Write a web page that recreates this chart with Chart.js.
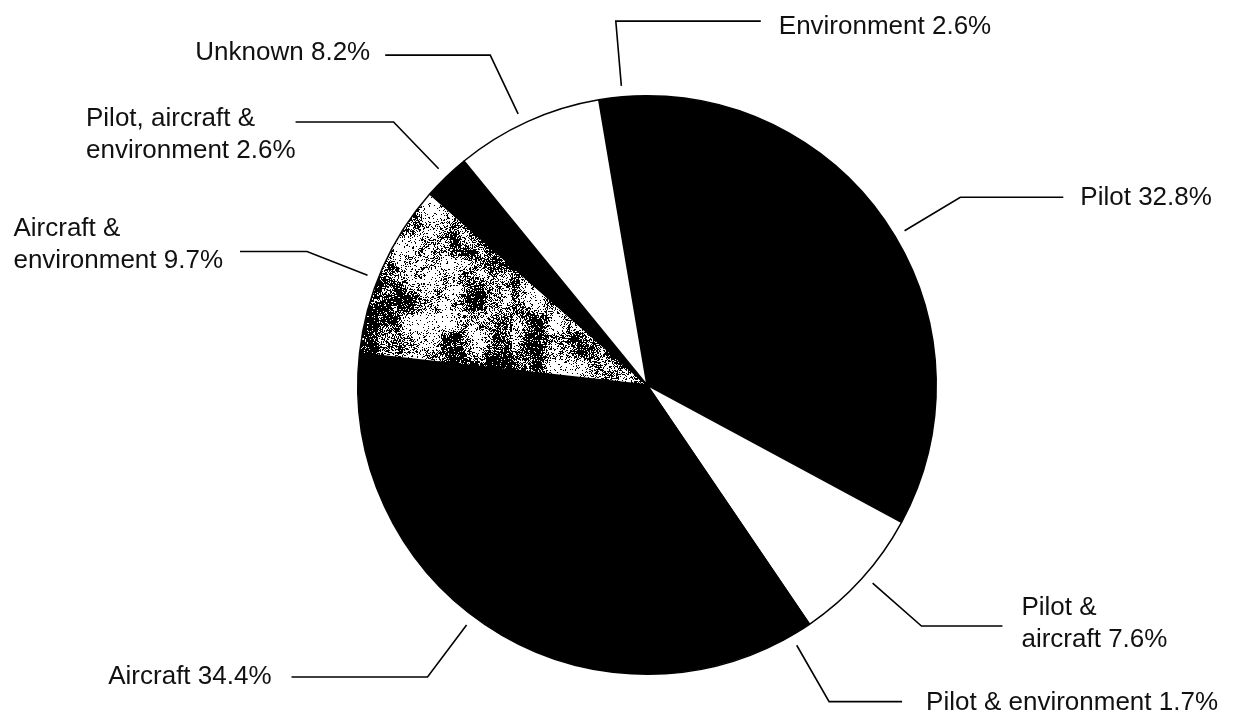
<!DOCTYPE html>
<html><head><meta charset="utf-8">
<script src="https://cdn.jsdelivr.net/npm/chart.js@4/dist/chart.umd.min.js"></script>
<style>html,body{margin:0;padding:0;background:#fff;overflow:hidden}</style>
</head><body>
<canvas id="c" width="1237" height="724"></canvas>
<script>
// ---- data ----
const categories = ["Environment", "Pilot", "Pilot &\naircraft", "Pilot & environment", "Aircraft",
                    "Aircraft &\nenvironment", "Pilot, aircraft &\nenvironment", "Unknown"];
const values = [2.6, 32.8, 7.6, 1.7, 34.4, 9.7, 2.6, 8.2];
const fillKinds = ["black", "black", "white", "black", "black", "texture", "black", "white"];

// ---- label layout (style) ----
const labelDir = [1, 1, 1, 1, -1, -1, -1, -1];
const labelAngleAdj = [0, 0, -0.8, 1.2, 2.8, -2.4, 0, -1];
const labelRun = [145, 103, 81, 73, 136, 67, 98, 105];
const labelGap = [18, 17, 19, 24, 20, 17, 0, 15];
const labelDy  = [4, -1.5, -4.5, -1, -2, -9, 11, -4];
const FONT_SIZE = 26, LINE_H = 32;
const FONT = FONT_SIZE + 'px "Liberation Sans", Arial, Helvetica, sans-serif';

const canvas = document.getElementById('c');
const ctx0 = canvas.getContext('2d');

function ihash(x, y, seed) {
  let h = (x * 374761393 + y * 668265263 + seed * 982451653) | 0;
  h = Math.imul(h ^ (h >>> 13), 1274126177);
  h = h ^ (h >>> 16);
  return (h >>> 0) / 4294967296;
}
function vnoise(x, y, cell, seed) {
  const gx = Math.floor(x / cell), gy = Math.floor(y / cell);
  const fx = x / cell - gx, fy = y / cell - gy;
  const sx = fx * fx * (3 - 2 * fx), sy = fy * fy * (3 - 2 * fy);
  const a = ihash(gx, gy, seed), b = ihash(gx + 1, gy, seed);
  const c = ihash(gx, gy + 1, seed), d = ihash(gx + 1, gy + 1, seed);
  return (a * (1 - sx) + b * sx) * (1 - sy) + (c * (1 - sx) + d * sx) * sy;
}
function makeTexture() {
  const s = 256;
  const c = document.createElement('canvas');
  c.width = c.height = s;
  const g = c.getContext('2d');
  const img = g.createImageData(s, s);
  for (let y = 0; y < s; y++) for (let x = 0; x < s; x++) {
    const n = 0.55 * vnoise(x, y, 22, 1) + 0.3 * vnoise(x, y, 9, 2) + 0.15 * vnoise(x, y, 4, 3);
    const p = Math.min(0.92, Math.max(0.08, 0.5 + (n - 0.5) * 1.9));
    const v = ihash(x, y, 7) < p ? 0 : 255;
    const i = (y * s + x) * 4;
    img.data[i] = img.data[i + 1] = img.data[i + 2] = v;
    img.data[i + 3] = 255;
  }
  g.putImageData(img, 0, 0);
  return ctx0.createPattern(c, 'repeat');
}
const texture = makeTexture();
const colors = fillKinds.map(k => k === 'texture' ? texture : (k === 'white' ? '#ffffff' : '#000000'));

const labelPlugin = {
  id: 'leaderLabels',
  afterDraw(chart) {
    const ctx = chart.ctx;
    const arcs = chart.getDatasetMeta(0).data;
    ctx.save();
    ctx.strokeStyle = '#000';
    ctx.lineWidth = 1.6;
    ctx.fillStyle = '#111';
    ctx.font = FONT;
    ctx.textBaseline = 'alphabetic';
    arcs.forEach((arc, i) => {
      const p = arc.getProps(['x', 'y', 'startAngle', 'endAngle', 'outerRadius'], true);
      const mid = (p.startAngle + p.endAngle) / 2 + labelAngleAdj[i] * Math.PI / 180;
      const R = p.outerRadius;
      const sx = p.x + Math.cos(mid) * (R + 11), sy = p.y + Math.sin(mid) * (R + 11);
      const ex = p.x + Math.cos(mid) * (R + 76), ey = p.y + Math.sin(mid) * (R + 76);
      const dir = labelDir[i];
      const lx = ex + dir * labelRun[i];
      ctx.beginPath();
      ctx.moveTo(sx, sy);
      ctx.lineTo(ex, ey);
      ctx.lineTo(lx, ey);
      ctx.stroke();
      const lines = (categories[i] + ' ' + values[i].toFixed(1) + '%').split('\n');
      const widths = lines.map(t => ctx.measureText(t).width);
      const maxW = Math.max(...widths);
      const left = dir > 0 ? lx + labelGap[i] : lx - labelGap[i] - maxW;
      const n = lines.length;
      const center = ey + labelDy[i];
      lines.forEach((t, k) => {
        const base = center + 0.358 * FONT_SIZE + (k - (n - 1) / 2) * LINE_H;
        let x = left;
        if (n === 1 && dir < 0) x = lx - labelGap[i] - widths[k];
        ctx.fillText(t, x, base);
      });
    });
    ctx.restore();
  }
};

new Chart(canvas, {
  type: 'pie',
  data: {
    labels: categories,
    datasets: [{
      data: values,
      backgroundColor: colors,
      borderColor: '#000',
      borderWidth: 1.5,
      hoverOffset: 0
    }]
  },
  options: {
    responsive: false,
    devicePixelRatio: 1,
    animation: false,
    rotation: -9.6,
    layout: { padding: { left: 357, right: 300, top: 95, bottom: 49 } },
    plugins: { legend: { display: false }, tooltip: { enabled: false } },
    events: []
  },
  plugins: [labelPlugin]
});
</script>
</body></html>
